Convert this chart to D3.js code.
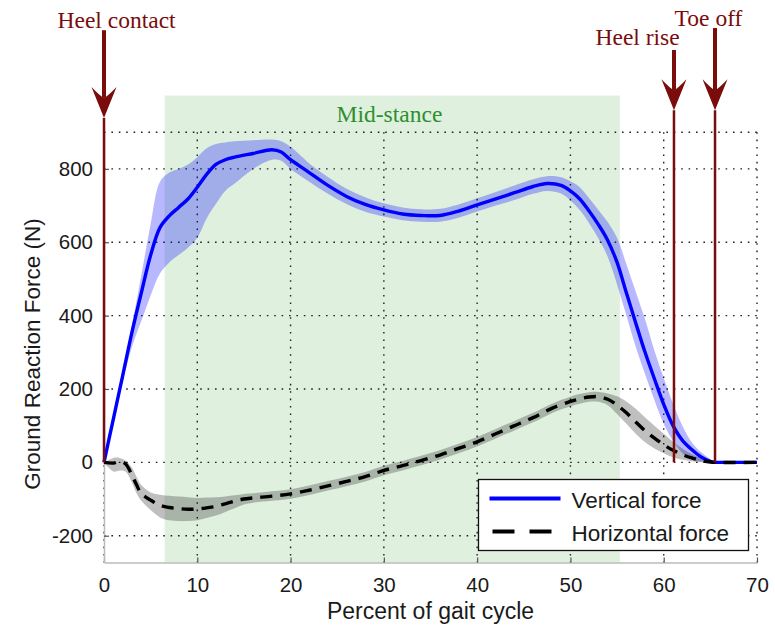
<!DOCTYPE html>
<html>
<head>
<meta charset="utf-8">
<script src="https://cdn.jsdelivr.net/npm/d3@7"></script>
<style>
  body { margin: 0; background: #fff; }
  svg { display: block; }
</style>
</head>
<body>
<div id="chart"></div>
<script>
// vertical ground reaction force: mean and spread band (N)
const verticalX     = [0, 1, 2, 3, 4, 5, 6, 7, 8, 9, 10, 11, 12, 13, 14, 16, 18, 19, 20, 22, 24, 26, 28, 30, 32, 34, 36, 38, 40, 42, 44, 46, 47.5, 49, 50, 51, 52, 53, 54, 55, 56, 57, 58, 59, 60, 61, 62, 63, 64, 65, 65.5, 66, 68, 70];
const verticalMean  = [0, 118, 236, 355, 462, 565, 640, 672, 695, 718, 750, 785, 812, 825, 832, 842, 852, 846, 825, 790, 755, 725, 703, 688, 677, 673, 673, 685, 702, 718, 735, 752, 760, 755, 740, 718, 685, 648, 605, 545, 462, 380, 300, 228, 158, 100, 60, 35, 15, 3, 0, 0, 0, 0];
const verticalUpper = [0, 122, 245, 375, 510, 650, 765, 790, 800, 812, 832, 856, 868, 872, 875, 878, 880, 875, 860, 815, 778, 746, 723, 706, 695, 690, 691, 703, 720, 737, 755, 772, 780, 777, 766, 750, 720, 688, 655, 612, 540, 465, 390, 305, 230, 160, 100, 55, 28, 8, 0, 0, 0, 0];
const verticalLower = [0, 110, 220, 315, 385, 455, 515, 545, 565, 585, 612, 665, 705, 740, 760, 800, 825, 822, 800, 765, 732, 704, 683, 670, 660, 656, 656, 667, 684, 700, 715, 732, 740, 733, 714, 688, 652, 610, 560, 485, 400, 315, 240, 170, 105, 58, 25, 8, 2, 0, 0, 0, 0, 0];

// horizontal ground reaction force: mean and spread band (N)
const horizontalX     = [0, 1, 1.7, 2.3, 3, 3.5, 4, 5, 6, 7, 8, 9, 10, 11, 12, 13, 14, 15, 16, 18, 20, 22, 24, 26, 28, 30, 32, 34, 36, 38, 40, 42, 44, 46, 48, 50, 51, 52, 53, 54, 55, 56, 57, 58, 59, 60, 61, 62, 63, 64, 65, 65.5, 70];
const horizontalMean  = [0, -2, 2, -4, -35, -62, -85, -103, -117, -123, -126, -128, -127, -124, -120, -113, -106, -100, -97, -92, -86, -76, -64, -52, -39, -22, -9, 5, 20, 38, 56, 78, 100, 122, 147, 166, 173, 178, 179, 172, 156, 135, 110, 86, 66, 48, 33, 21, 12, 5, 1, 0, 0];
const horizontalUpper = [0, 12, 12, 5, -15, -40, -62, -82, -88, -91, -93, -95, -97, -96, -95, -93, -90, -86, -84, -79, -73, -63, -51, -39, -26, -9, 4, 18, 33, 51, 69, 91, 113, 135, 160, 179, 186, 191, 192, 188, 180, 166, 146, 122, 100, 78, 56, 38, 23, 12, 4, 0, 0];
const horizontalLower = [0, -25, -22, -25, -55, -85, -105, -130, -150, -158, -160, -160, -158, -152, -145, -135, -125, -115, -110, -105, -99, -89, -77, -65, -52, -35, -22, -8, 7, 25, 43, 65, 87, 109, 134, 153, 160, 165, 165, 156, 132, 105, 78, 55, 38, 25, 14, 7, 3, 0, 0, 0, 0];

const xTicks = [0, 10, 20, 30, 40, 50, 60, 70];
const yTicks = [-200, 0, 200, 400, 600, 800];
const yGrid = [-200, 0, 200, 400, 600, 800, 900];

const midStance = [6.5, 55.3];
const midStanceLabel = "Mid-stance";

// gait events: position (% of cycle), arrow top / tip and label (in N units)
const eventLabels = ["Heel contact", "Heel rise", "Toe off"];
const eventX = [0, 61.1, 65.5];
const eventArrowTop = [1178, 1124, 1184];
const eventArrowTip = [939, 960, 960];
const eventLabelX = [1.35, 57.2, 64.8];
const eventLabelY = [1184, 1138, 1190];

const seriesNames = ["Vertical force", "Horizontal force"];

const width = 775, height = 637;
const sans = "'Liberation Sans', Arial, Helvetica, sans-serif";
const serif = "'Liberation Serif', 'Times New Roman', serif";
const maroon = "#7a0c0c";

const svg = d3.select("#chart").append("svg")
  .attr("width", width)
  .attr("height", height);

svg.append("rect").attr("width", width).attr("height", height).attr("fill", "#fff");

const x = d3.scaleLinear().domain([0, 70]).range([104, 757]);
const y = d3.scaleLinear().domain([-273, 900]).range([562.5, 132.2]);

// mid-stance shading
svg.append("rect")
  .attr("x", x(midStance[0]))
  .attr("y", y(1000))
  .attr("width", x(midStance[1]) - x(midStance[0]))
  .attr("height", y(-273) - y(1000))
  .attr("fill", "#dff0df");

svg.append("text")
  .attr("x", x(30.6))
  .attr("y", y(928))
  .attr("text-anchor", "middle")
  .attr("font-family", serif)
  .attr("font-size", 23.5)
  .attr("fill", "#2d8f2d")
  .text(midStanceLabel);

// dotted grid
const grid = svg.append("g")
  .attr("stroke", "#222")
  .attr("stroke-width", 1.4)
  .attr("stroke-dasharray", "1.6,5.8");

grid.selectAll(".gx").data(xTicks).join("line")
  .attr("x1", d => x(d)).attr("x2", d => x(d))
  .attr("y1", y(900)).attr("y2", y(-273));

grid.selectAll(".gy").data(yGrid).join("line")
  .attr("x1", x(0)).attr("x2", x(70))
  .attr("y1", d => y(d)).attr("y2", d => y(d));

// axes
const xAxis = svg.append("g")
  .attr("transform", `translate(0,${y(-273)})`)
  .call(d3.axisBottom(x).tickValues(xTicks).tickFormat(d => String(d))
    .tickSize(-5).tickSizeOuter(0).tickPadding(15));

const yAxis = svg.append("g")
  .attr("transform", `translate(${x(0)},0)`)
  .call(d3.axisLeft(y).tickValues(yTicks).tickFormat(d => String(d))
    .tickSize(-5).tickSizeOuter(0).tickPadding(11));

[xAxis, yAxis].forEach(a => {
  a.select(".domain").attr("stroke", "#bbb").attr("stroke-width", 1.5);
  a.selectAll(".tick line").attr("stroke", "#555").attr("stroke-width", 1.2);
  a.selectAll(".tick text")
    .attr("font-family", sans)
    .attr("font-size", 20.5)
    .attr("fill", "#1a1a1a");
});

// bands
const smooth = d3.curveCatmullRom.alpha(0.5);

const band = (xs, lo, hi) => d3.area()
  .x((d, i) => x(xs[i]))
  .y0((d, i) => y(lo[i]))
  .y1((d, i) => y(hi[i]))
  .curve(smooth)(xs);

svg.append("path")
  .attr("d", band(verticalX, verticalLower, verticalUpper))
  .attr("fill", "#0000ff")
  .attr("fill-opacity", 0.28);

svg.append("path")
  .attr("d", band(horizontalX, horizontalLower, horizontalUpper))
  .attr("fill", "#000")
  .attr("fill-opacity", 0.25);

const line = (xs, vs) => d3.line()
  .x((d, i) => x(xs[i]))
  .y((d, i) => y(vs[i]))
  .curve(smooth)(xs);

svg.append("path")
  .attr("d", line(verticalX, verticalMean))
  .attr("fill", "none")
  .attr("stroke", "#0000ff")
  .attr("stroke-width", 3.4);

svg.append("path")
  .attr("d", line(horizontalX, horizontalMean))
  .attr("fill", "none")
  .attr("stroke", "#000")
  .attr("stroke-width", 3.4)
  .attr("stroke-dasharray", "12,8");

// gait event arrows
const events = svg.append("g");
eventLabels.forEach((label, i) => {
  const ex = x(eventX[i]);
  const tip = y(eventArrowTip[i]);
  events.append("line")
    .attr("x1", ex).attr("x2", ex)
    .attr("y1", y(eventArrowTop[i])).attr("y2", tip - 20)
    .attr("stroke", maroon).attr("stroke-width", 4);
  events.append("path")
    .attr("d", `M${ex},${tip} L${ex + 12.5},${tip - 31} Q${ex + 4},${tip - 22} ${ex},${tip - 20} Q${ex - 4},${tip - 22} ${ex - 12.5},${tip - 31} Z`)
    .attr("fill", maroon);
  events.append("line")
    .attr("x1", ex).attr("x2", ex)
    .attr("y1", tip).attr("y2", y(0))
    .attr("stroke", maroon).attr("stroke-width", 2.5);
  events.append("text")
    .attr("x", x(eventLabelX[i]))
    .attr("y", y(eventLabelY[i]))
    .attr("text-anchor", "middle")
    .attr("font-family", serif)
    .attr("font-size", 23.5)
    .attr("fill", maroon)
    .text(label);
});

// axis titles
svg.append("text")
  .attr("x", (x(0) + x(70)) / 2)
  .attr("y", 619)
  .attr("text-anchor", "middle")
  .attr("font-family", sans)
  .attr("font-size", 23)
  .attr("fill", "#1a1a1a")
  .text("Percent of gait cycle");

svg.append("text")
  .attr("transform", "translate(40,354) rotate(-90)")
  .attr("text-anchor", "middle")
  .attr("font-family", sans)
  .attr("font-size", 22.5)
  .attr("fill", "#1a1a1a")
  .text("Ground Reaction Force (N)");

// legend
const legend = svg.append("g").attr("transform", "translate(478.5,479.5)");
legend.append("rect")
  .attr("width", 270).attr("height", 71)
  .attr("fill", "#fff").attr("stroke", "#111").attr("stroke-width", 1.3);

const legendStyles = [
  { color: "#0000ff", dash: null },
  { color: "#000", dash: "22,15" }
];
seriesNames.forEach((name, i) => {
  const ly = 19 + i * 33;
  legend.append("line")
    .attr("x1", i === 0 ? 11 : 14).attr("x2", i === 0 ? 82 : 74)
    .attr("y1", ly).attr("y2", ly)
    .attr("stroke", legendStyles[i].color)
    .attr("stroke-width", 3.8)
    .attr("stroke-dasharray", legendStyles[i].dash);
  legend.append("text")
    .attr("x", 93).attr("y", ly + 9)
    .attr("font-family", sans)
    .attr("font-size", 22.5)
    .attr("fill", "#1a1a1a")
    .text(name);
});
</script>
</body>
</html>
